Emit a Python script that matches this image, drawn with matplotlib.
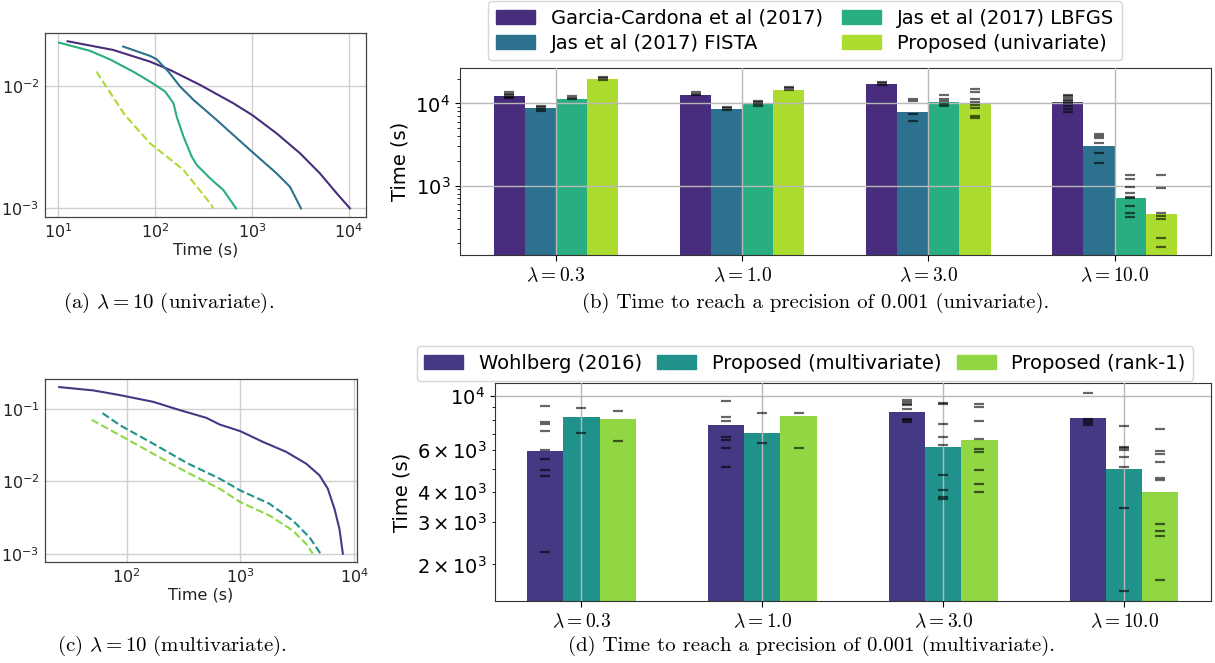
import matplotlib
matplotlib.use("Agg")
import matplotlib.pyplot as plt
import numpy as np

plt.rcParams['mathtext.fontset'] = 'cm'
plt.rcParams['font.family'] = ['DejaVu Sans']

# ---------------- data ----------------
# (a) univariate convergence curves, lambda = 10
a_gc_t = [12.5, 36.9, 88.8, 143, 291, 642, 1000, 1794, 3126, 5024, 7460, 10240]
a_gc_v = [0.0232, 0.0197, 0.0158, 0.0135, 0.0102, 0.00722, 0.0058, 0.0041, 0.00282, 0.00193, 0.00133, 0.001]
a_fista_t = [46.8, 88.8, 104, 137, 181, 249, 432, 953, 1794, 2466, 3200]
a_fista_v = [0.0210, 0.0176, 0.0165, 0.0131, 0.00989, 0.00769, 0.00527, 0.0030, 0.00193, 0.00150, 0.001]
a_lbfgs_t = [10.2, 21.2, 34.1, 59.3, 88.8, 127, 154.5, 167, 196, 239, 269, 369, 506, 684]
a_lbfgs_v = [0.0226, 0.0194, 0.0165, 0.0131, 0.01084, 0.0090, 0.00722, 0.00561, 0.00386, 0.00264, 0.00226, 0.00176, 0.00141, 0.001]
a_prop_t = [24.8, 48.6, 88.8, 196, 384, 395]
a_prop_v = [0.0131, 0.0058, 0.0034, 0.00206, 0.00106, 0.001]

# (c) multivariate convergence curves, lambda = 10
c_wohl_t = [25.6, 51.1, 87.4, 171, 294, 503, 659, 1000, 1581, 2535, 3795, 4965, 5875, 6720, 7430, 7960]
c_wohl_v = [0.1995, 0.1795, 0.1545, 0.125, 0.0959, 0.075, 0.0607, 0.0491, 0.0349, 0.0254, 0.01746, 0.01205, 0.00787, 0.00416, 0.0022, 0.001]
c_multi_t = [61.5, 87.4, 171, 336, 659, 1000, 1807, 2897, 4055, 5070]
c_multi_v = [0.0871, 0.0594, 0.0331, 0.018, 0.01084, 0.00746, 0.00488, 0.00286, 0.00168, 0.001]
c_rank1_t = [49.3, 87.4, 171, 336, 659, 1000, 1807, 2897, 3795, 4335]
c_rank1_v = [0.0705, 0.0431, 0.024, 0.0134, 0.00787, 0.00514, 0.00336, 0.00208, 0.00136, 0.001]

# (b) time to reach 0.001, univariate
lambdas = ["0.3", "1.0", "3.0", "10.0"]
b_methods = ["Garcia-Cardona et al (2017)", "Jas et al (2017) FISTA",
             "Jas et al (2017) LBFGS", "Proposed (univariate)"]
b_means = [
    [12400, 12760, 17380, 10480],
    [8770, 8610, 7770, 3050],
    [11400, 9820, 10480, 708],
    [20000, 14680, 10190, 451],
]
b_runs = [
    [[11800, 12500, 13200, 13800, 12100], [12500, 13200, 13700], [17000, 17800, 18200],
     [12760, 12170, 11620, 11090, 10580, 10090, 9190, 8530, 7770]],
    [[8500, 9000, 9300, 8200], [8300, 8700, 9000], [11300, 10570, 7410, 6030],
     [4270, 4030, 3780, 3340, 2520, 1870]],
    [[11200, 11800, 12200], [9300, 9800, 10300, 10800], [12520, 11400, 10570, 9810, 9190],
     [1349, 1205, 972, 822, 735, 701, 565, 469, 411]],
    [[19500, 20500, 21000], [14500, 15500, 16000],
     [14970, 13740, 11290, 10280, 9630, 8770, 7080, 6630],
     [1349, 927, 460, 427, 388, 232, 180]],
]

# (d) time to reach 0.001, multivariate
d_methods = ["Wohlberg (2016)", "Proposed (multivariate)", "Proposed (rank-1)"]
d_means = [
    [5909, 7578, 8582, 8100],
    [8181, 7020, 6140, 4975],
    [8025, 8259, 6569, 3994],
]
d_runs = [
    [[9117, 7825, 7700, 7180, 5970, 5460, 4957, 4666, 2245],
     [9563, 8210, 7900, 6776, 6602, 6100, 5095],
     [9624, 9470, 9333, 9180, 8894, 8076, 7947, 7820],
     [10324, 8076, 7910, 7750, 7580]],
    [[8946, 7042], [8558, 6380],
     [9383, 9264, 7675, 6778, 6263, 4717, 4090, 3816, 3733],
     [7534, 6166, 6068, 5972, 5587, 5074, 3437, 1549]],
    [[8690, 6505], [8497, 6068],
     [9264, 9031, 7910, 6669, 6042, 5852, 4943, 4337, 4018],
     [7346, 5931, 5781, 5337, 4594, 4508, 2937, 2749, 2612, 1722]],
]

captions = [
    r"(a) $\lambda = 10$ (univariate).",
    r"(b) Time to reach a precision of 0.001 (univariate).",
    r"(c) $\lambda = 10$ (multivariate).",
    r"(d) Time to reach a precision of 0.001 (multivariate).",
]

# ---------------- figure ----------------
W, H = 1215, 663
fig = plt.figure(figsize=(W / 100, H / 100), dpi=100)

def box(l, t, r, b):
    return [l / W, 1 - b / H, (r - l) / W, (b - t) / H]

cmap = plt.get_cmap("viridis")
col4 = [cmap((i + 0.5) / 4) for i in range(4)]
col3 = [cmap((i + 0.5) / 3) for i in range(3)]

def style_curve_ax(ax):
    ax.set_xscale("log")
    ax.set_yscale("log")
    ax.grid(True, which="major", color="#d0d0d0", linewidth=1.0)
    ax.tick_params(which="both", length=0, labelsize=11.5, pad=4, colors="#222222")
    ax.tick_params(which="minor", length=0)
    for s in ax.spines.values():
        s.set_color("#444444")
        s.set_linewidth(0.9)
    ax.set_xlabel("Time (s)", fontsize=11.5, labelpad=1, color="#222222")

# (a)
axa = fig.add_axes(box(45, 33, 366, 217))
style_curve_ax(axa)
axa.plot(a_gc_t, a_gc_v, color=col4[0], lw=1.5)
axa.plot(a_fista_t, a_fista_v, color=col4[1], lw=1.5)
axa.plot(a_lbfgs_t, a_lbfgs_v, color=col4[2], lw=1.5)
axa.plot(a_prop_t, a_prop_v, color=col4[3], lw=1.5, ls="--")
axa.set_xlim(7.3, 15000)
axa.set_ylim(8.5e-4, 0.0271)

# (c)
axc = fig.add_axes(box(45, 379, 357, 562))
style_curve_ax(axc)
axc.plot(c_wohl_t, c_wohl_v, color=col3[0], lw=1.5)
axc.plot(c_multi_t, c_multi_v, color=col3[1], lw=1.5, ls="--")
axc.plot(c_rank1_t, c_rank1_v, color=col3[2], lw=1.5, ls="--")
axc.set_xlim(19.2, 10600)
axc.set_ylim(7.67e-4, 0.258)

def bar_panel(ax, means, runs, colors, width, ylim, xlim):
    n = len(means)
    x = np.arange(len(lambdas))
    for i in range(n):
        off = (i - (n - 1) / 2) * width
        ax.bar(x + off, means[i], width=width, color=colors[i], zorder=1, linewidth=0)
        for j in range(len(lambdas)):
            ys = runs[i][j]
            ax.plot([x[j] + off] * len(ys), ys, ls="none", marker="_", color="black",
                    alpha=0.6, ms=7, mew=1.6, zorder=3)
    ax.set_yscale("log")
    ax.set_ylim(*ylim)
    ax.set_xlim(*xlim)
    ax.set_xticks(x)
    ax.set_xticklabels([r"$\lambda = %s$" % l for l in lambdas], fontsize=14)
    ax.grid(True, which="major", color="#b8b8b8", linewidth=1.0, zorder=2)
    ax.set_axisbelow(False)
    ax.tick_params(axis="y", which="both", labelsize=14)
    ax.tick_params(axis="x", length=4, pad=4)
    ax.set_ylabel("Time (s)", fontsize=14)
    for s in ax.spines.values():
        s.set_color("#333333")

# (b)
axb = fig.add_axes(box(460, 68, 1211, 255))
bar_panel(axb, b_means, b_runs, col4, 0.167, (143, 27000), (-0.516, 3.518))
handles = [plt.Rectangle((0, 0), 1, 1, color=c) for c in col4]
fig.legend(handles, b_methods, ncol=2, loc="upper center",
           bbox_to_anchor=(805 / W, 1 - 1 / H), fontsize=14, frameon=True,
           borderaxespad=0, handlelength=2.0, columnspacing=1.0,
           handletextpad=0.8, labelspacing=0.3, fancybox=True)

# (d)
axd = fig.add_axes(box(495, 383, 1211, 601))
bar_panel(axd, d_means, d_runs, col3, 0.2, (1408, 11360), (-0.478, 3.48))
handles = [plt.Rectangle((0, 0), 1, 1, color=c) for c in col3]
fig.legend(handles, d_methods, ncol=3, loc="upper center",
           bbox_to_anchor=(805 / W, 1 - 346 / H), fontsize=14, frameon=True,
           borderaxespad=0, handlelength=2.0, columnspacing=0.8,
           handletextpad=0.8, fancybox=True)

# captions
cap_pos = [(169, 303), (816, 303), (172, 646), (812, 646)]
for txt, (cx, cy) in zip(captions, cap_pos):
    fig.text(cx / W, 1 - cy / H, txt, ha="center", va="center", fontsize=15,
             family="cmr10")

fig.savefig("out.png", dpi=100)
